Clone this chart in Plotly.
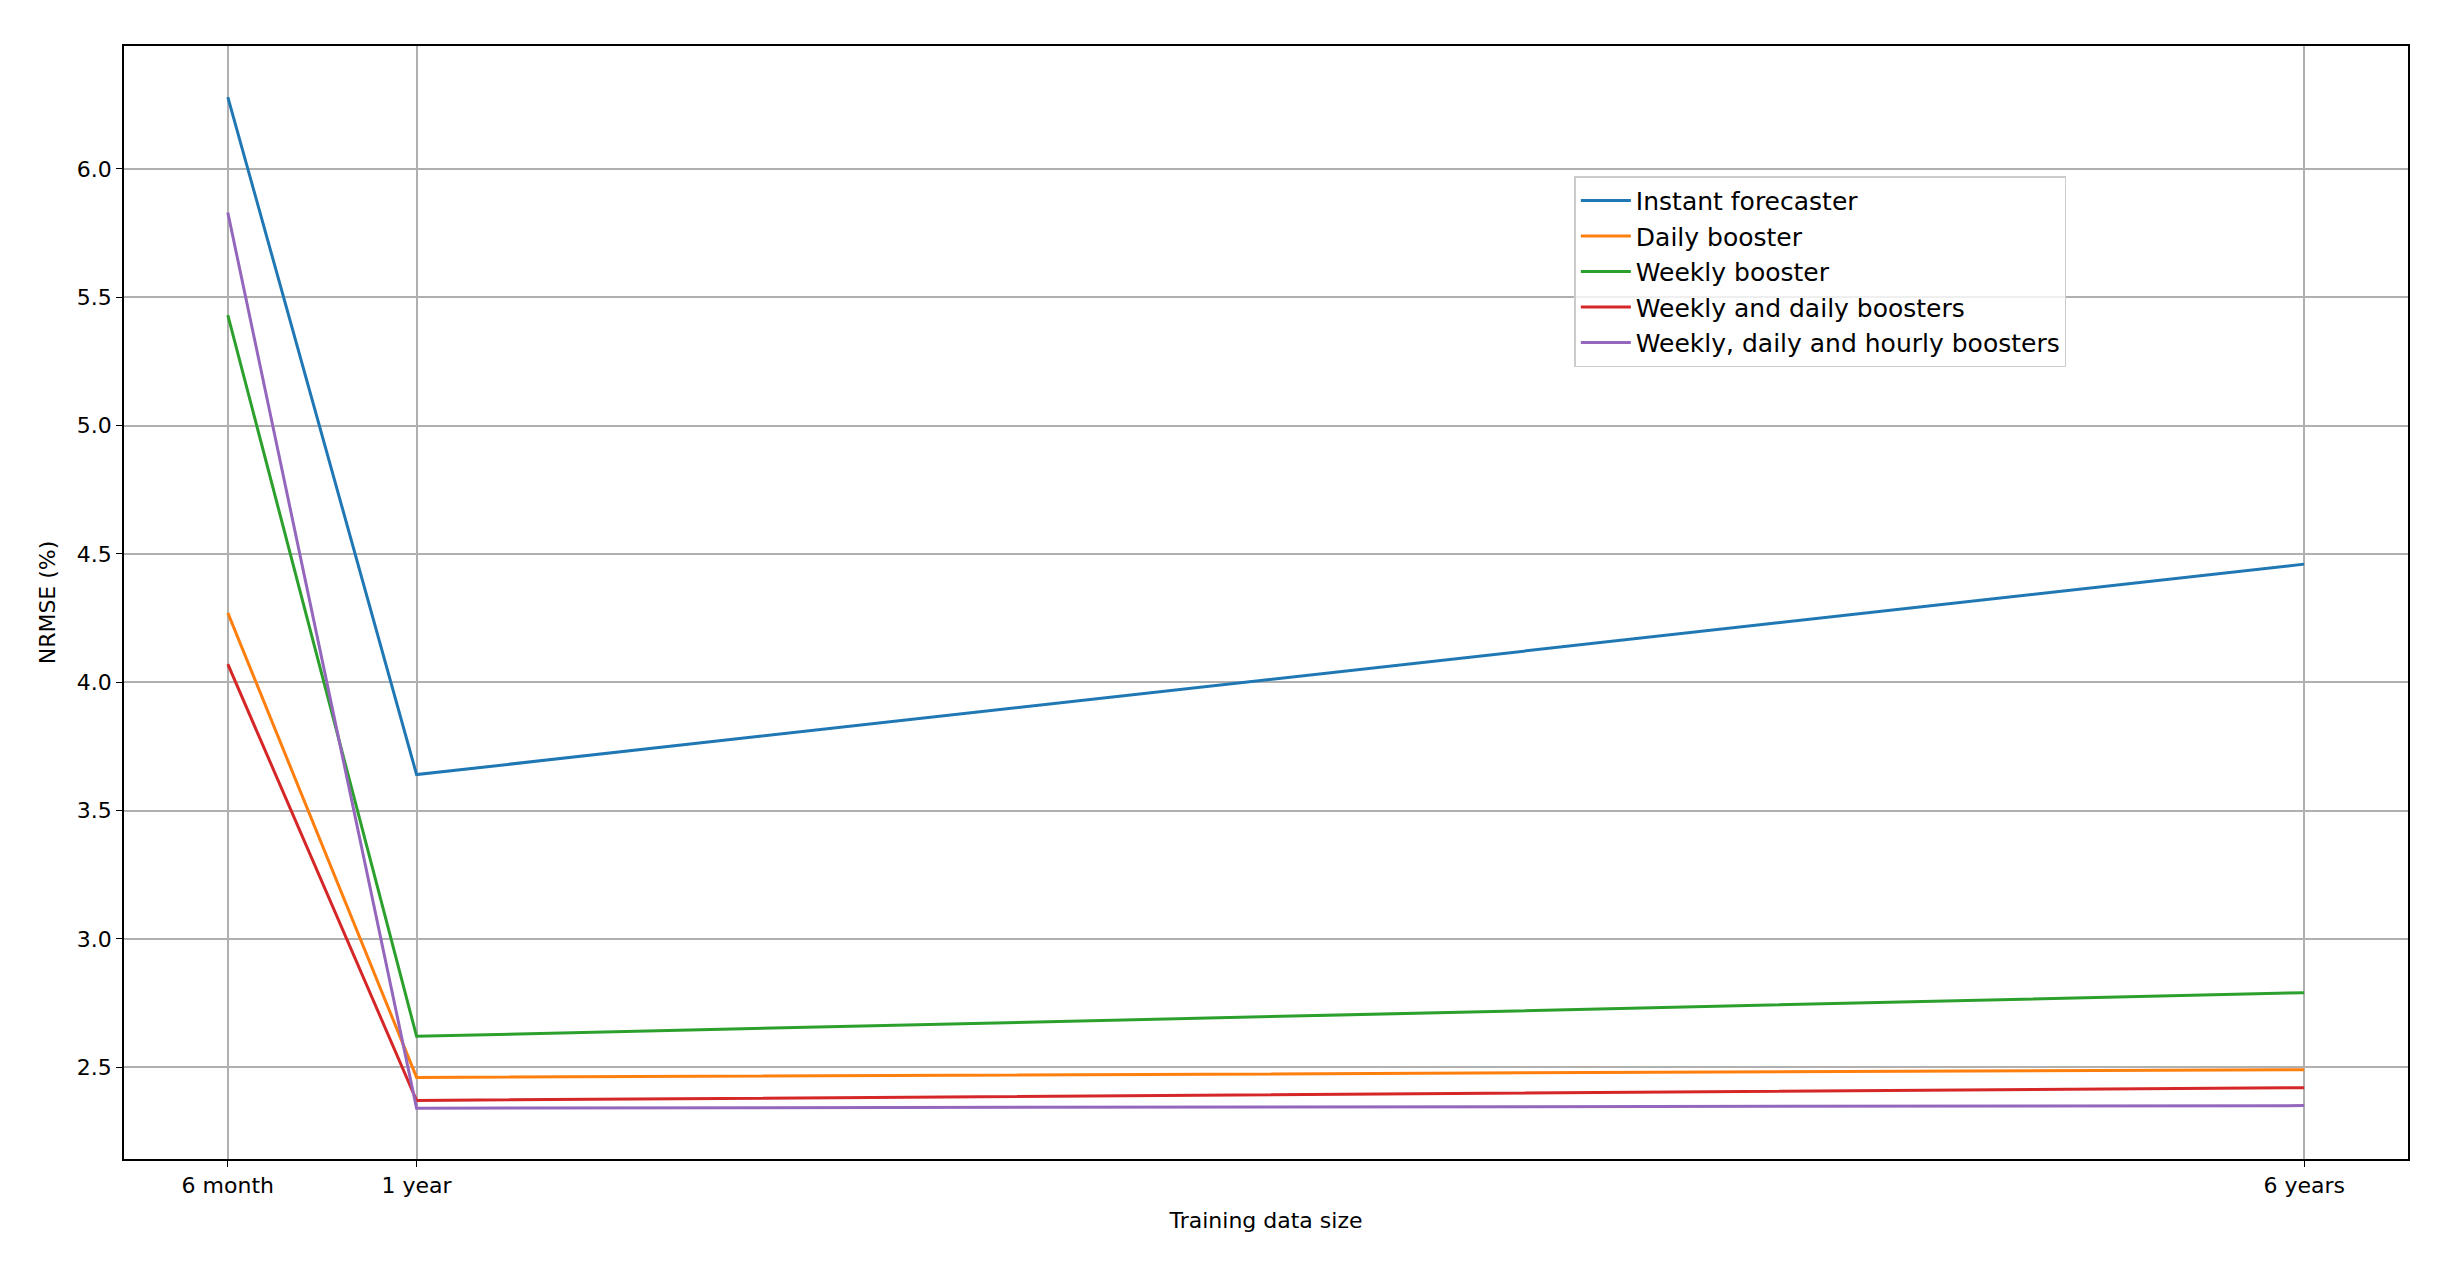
import plotly.graph_objects as go

x_months = [6, 12, 72]
x_labels = ["6 month", "1 year", "6 years"]
series_names = ["Instant forecaster", "Daily booster", "Weekly booster",
                "Weekly and daily boosters", "Weekly, daily and hourly boosters"]
instant = [6.28, 3.64, 4.46]
daily = [4.27, 2.46, 2.49]
weekly = [5.43, 2.62, 2.79]
weekly_daily = [4.07, 2.37, 2.42]
weekly_daily_hourly = [5.83, 2.34, 2.35]
colors = ["#1f77b4", "#ff7f0e", "#2ca02c", "#d62728", "#9467bd"]
y_ticks = [2.5, 3.0, 3.5, 4.0, 4.5, 5.0, 5.5, 6.0]

fig = go.Figure()
for name, vals, c in zip(series_names,
                         [instant, daily, weekly, weekly_daily, weekly_daily_hourly], colors):
    fig.add_trace(go.Scatter(x=x_months, y=vals, mode="lines", name=name,
                             line=dict(color=c, width=3)))

axis_common = dict(showline=True, mirror=True, linecolor="black", linewidth=1.5,
                   showgrid=True, gridcolor="#b0b0b0", gridwidth=1.5,
                   ticks="outside", tickcolor="black", ticklen=6,
                   tickfont=dict(size=22, color="black"), zeroline=False)
fig.update_xaxes(range=[2.7, 75.3], tickvals=x_months, ticktext=x_labels,
                 title=dict(text="Training data size", font=dict(size=22, color="black")),
                 **axis_common)
fig.update_yaxes(range=[2.142, 6.479], tickvals=y_ticks,
                 ticktext=[f"{v:.1f}" for v in y_ticks],
                 title=dict(text="NRMSE (%)", font=dict(size=22, color="black")),
                 **axis_common)
fig.update_layout(
    width=2443, height=1269, paper_bgcolor="white", plot_bgcolor="white",
    font=dict(family="DejaVu Sans", color="black"),
    margin=dict(l=116, r=43, t=38, b=118),
    legend=dict(x=0.635, y=0.883, xanchor="left", yanchor="top",
                bgcolor="rgba(255,255,255,0.8)", bordercolor="#cccccc", borderwidth=1.5,
                font=dict(size=25, color="black"), tracegroupgap=0, itemwidth=50),
)
fig.write_html("out.html")
